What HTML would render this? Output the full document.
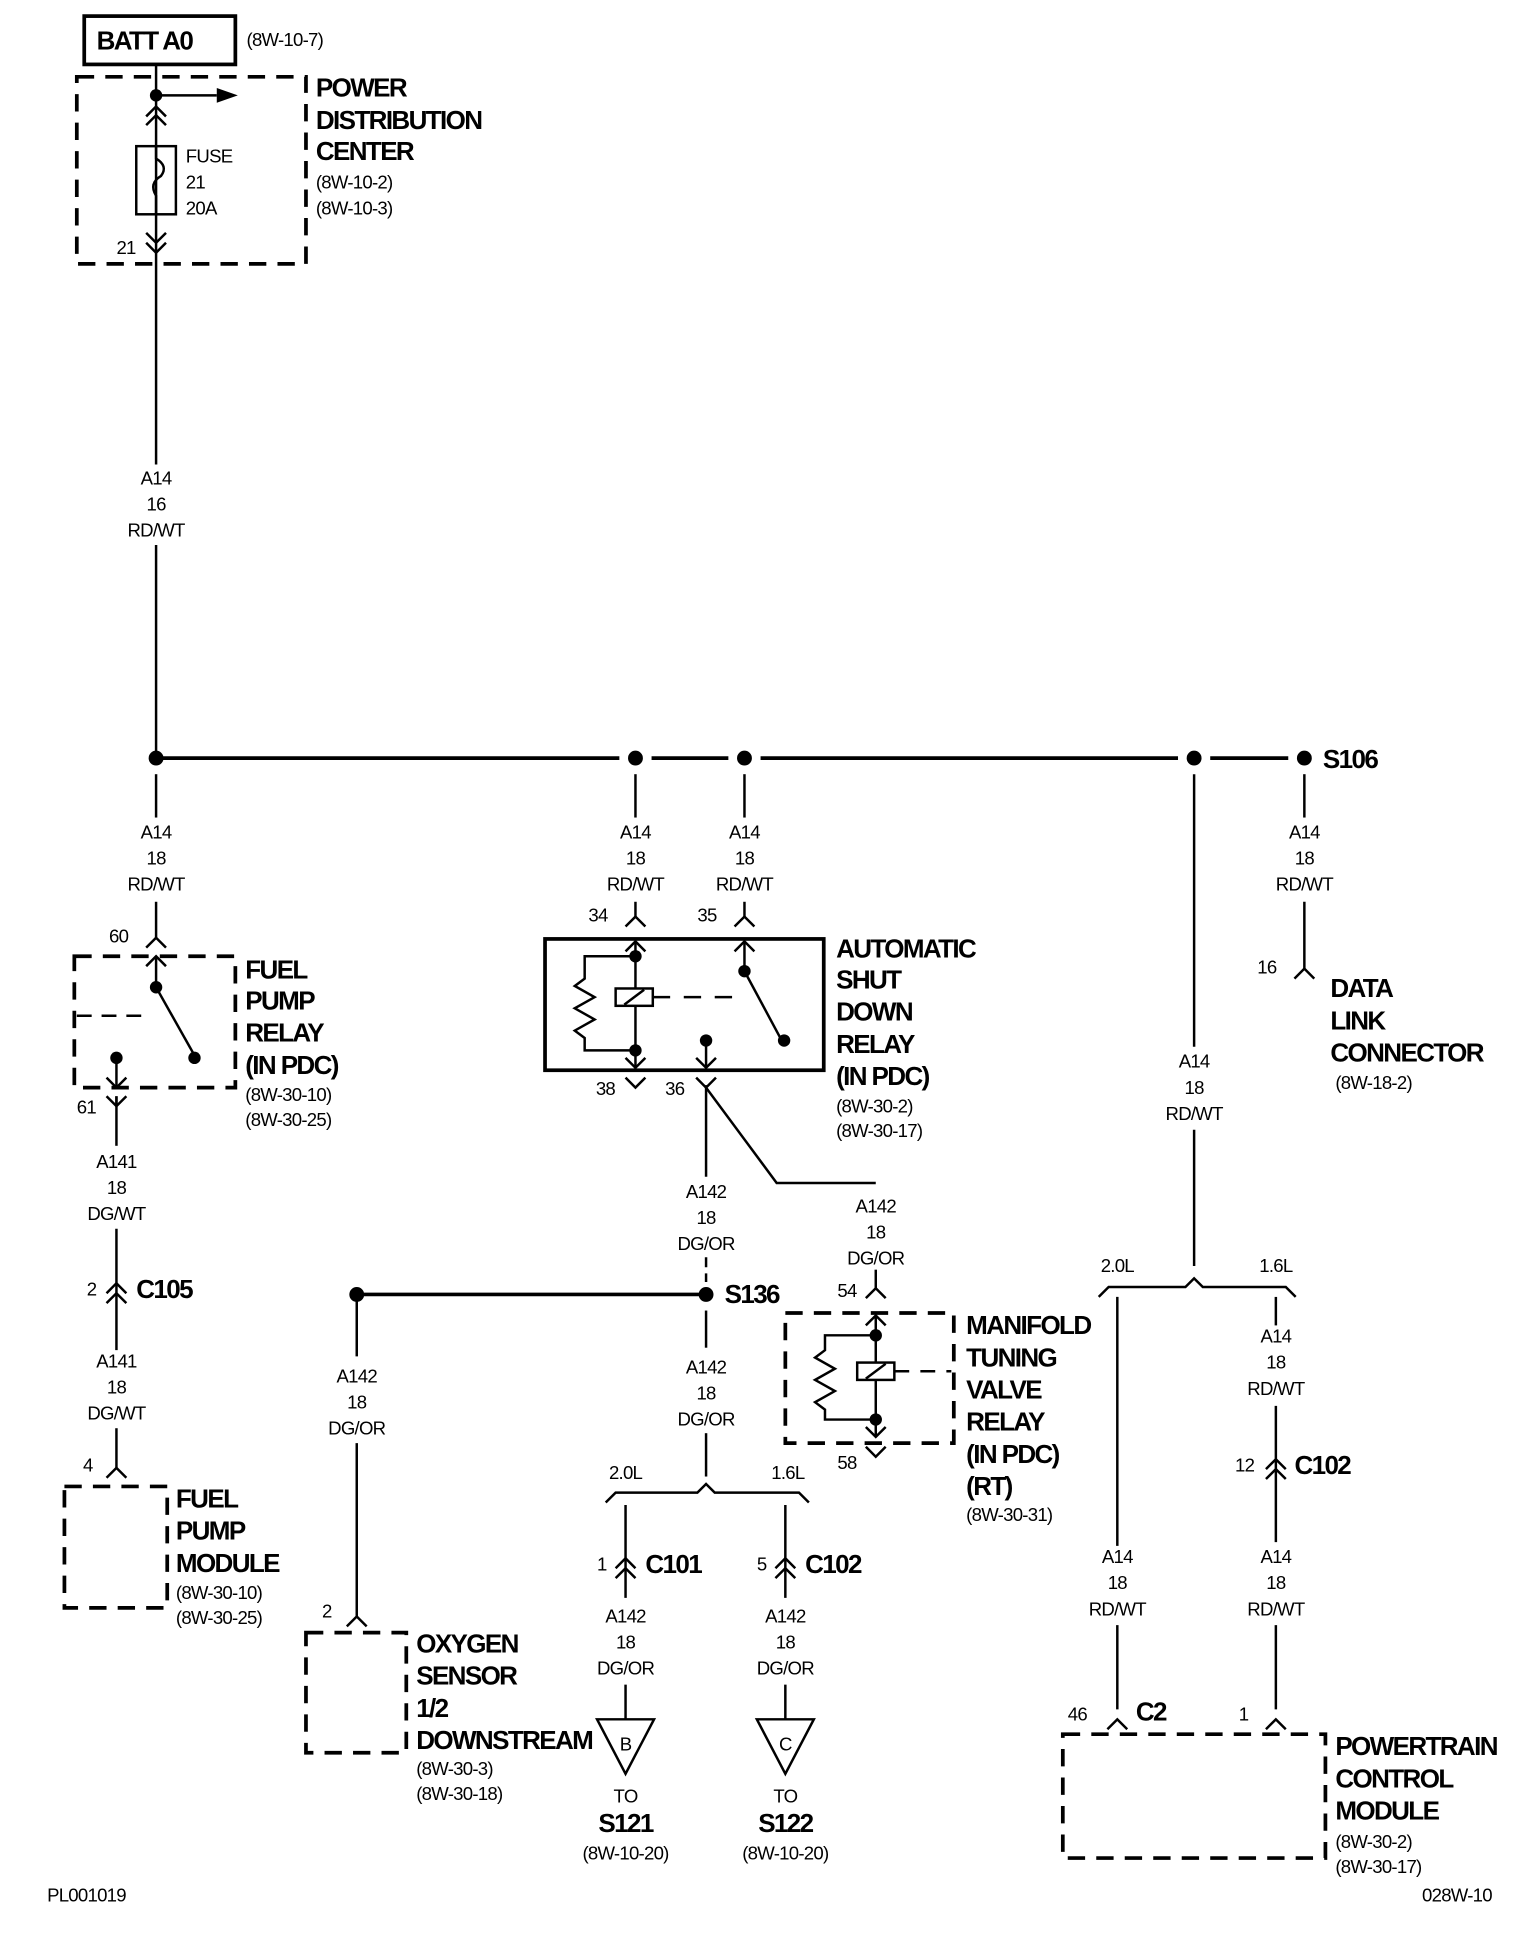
<!DOCTYPE html>
<html><head><style>
html,body{margin:0;padding:0;background:#fff}
svg{display:block}
text{font-family:"Liberation Sans Narrow","Liberation Sans",sans-serif;fill:#000}
.s{font-size:15px;letter-spacing:-0.6px}
.b{font-size:21px;font-weight:bold;letter-spacing:-1.3px}
.c{text-anchor:middle}
</style></head><body>
<svg width="1536" height="1946" viewBox="0 0 1240 1571" xmlns="http://www.w3.org/2000/svg">
<defs>
<path id="up" d="M-8,8 L0,0 L8,8" fill="none" stroke="#000" stroke-width="2"/>
<path id="dn" d="M-8,-8 L0,0 L8,-8" fill="none" stroke="#000" stroke-width="2"/>
</defs>
<rect width="1240" height="1571" fill="#fff"/>
<g stroke="#000" fill="none" stroke-width="2">
<rect x="68" y="13" width="122" height="39" stroke-width="3"/>
<rect x="62" y="62" width="185" height="151" stroke-width="3" stroke-dasharray="14,9"/>
<line x1="126" y1="52" x2="126" y2="375"/>
<line x1="126" y1="440" x2="126" y2="612"/>
<line x1="126" y1="77" x2="175" y2="77"/>
<rect x="110" y="118" width="32" height="55"/>
<path d="M126,118 v10 q10,6 4,14 q-10,6 -4,16 v15"/>
<line x1="126" y1="612" x2="500" y2="612" stroke-width="3"/>
<line x1="526" y1="612" x2="588" y2="612" stroke-width="3"/>
<line x1="614" y1="612" x2="951" y2="612" stroke-width="3"/>
<line x1="977" y1="612" x2="1040" y2="612" stroke-width="3"/>
<line x1="126" y1="625" x2="126" y2="660"/>
<line x1="126" y1="728" x2="126" y2="757"/>
<rect x="60" y="772" width="130" height="106" stroke-width="3" stroke-dasharray="14,9"/>
<line x1="126" y1="772" x2="126" y2="797"/>
<line x1="126" y1="797" x2="157" y2="852"/>
<line x1="62" y1="820" x2="122" y2="820" stroke-dasharray="12,8"/>
<line x1="94" y1="854" x2="94" y2="878"/>
<line x1="94" y1="885" x2="94" y2="925"/>
<line x1="94" y1="992" x2="94" y2="1090"/>
<line x1="94" y1="1153" x2="94" y2="1185"/>
<path d="M52,1200 H135 V1298 H52 Z" stroke-width="3" stroke-dasharray="14,9"/>
<line x1="513" y1="625" x2="513" y2="660"/>
<line x1="513" y1="728" x2="513" y2="740"/>
<line x1="601" y1="625" x2="601" y2="660"/>
<line x1="601" y1="728" x2="601" y2="740"/>
<rect x="440" y="758" width="225" height="106" stroke-width="3"/>
<line x1="513" y1="760" x2="513" y2="862"/>
<path d="M513,772 H472 V790 l-8,6 16,9 -16,9 16,9 -16,9 8,6 V848 H513"/>
<rect x="497" y="798" width="30" height="14" fill="#fff"/>
<line x1="504" y1="811" x2="520" y2="799"/>
<line x1="527" y1="805" x2="600" y2="805" stroke-dasharray="14,11"/>
<line x1="601" y1="760" x2="601" y2="784"/>
<line x1="601" y1="784" x2="630" y2="838"/>
<line x1="570" y1="840" x2="570" y2="862"/>
<line x1="570" y1="876" x2="570" y2="950"/>
<line x1="570" y1="1015" x2="570" y2="1035" stroke-dasharray="8,5"/>
<path d="M570,878 L627,955 H707"/>
<line x1="707" y1="1025" x2="707" y2="1040"/>
<line x1="288" y1="1045" x2="570" y2="1045" stroke-width="3"/>
<line x1="288" y1="1045" x2="288" y2="1095"/>
<line x1="288" y1="1165" x2="288" y2="1305"/>
<rect x="247" y="1318" width="81" height="97" stroke-width="3" stroke-dasharray="14,9"/>
<line x1="570" y1="1058" x2="570" y2="1088"/>
<line x1="570" y1="1157" x2="570" y2="1192"/>
<path d="M489,1213 l8,-8 H563 l7,-7 7,7 H645 l8,8"/>
<line x1="505" y1="1215" x2="505" y2="1290"/>
<line x1="634" y1="1215" x2="634" y2="1290"/>
<line x1="505" y1="1360" x2="505" y2="1388"/>
<line x1="634" y1="1360" x2="634" y2="1388"/>
<path d="M482,1388 H528 L505,1432 Z"/>
<path d="M611,1388 H657 L634,1432 Z"/>
<rect x="634" y="1060" width="136" height="105" stroke-width="3" stroke-dasharray="14,9"/>
<line x1="707" y1="1062" x2="707" y2="1160"/>
<path d="M707,1078 H666 V1090 l-8,6 16,9 -16,9 16,9 -16,9 8,6 V1146 H707"/>
<rect x="692" y="1100" width="30" height="14" fill="#fff"/>
<line x1="699" y1="1113" x2="715" y2="1101"/>
<line x1="722" y1="1107" x2="768" y2="1107" stroke-dasharray="12,9"/>
<line x1="964" y1="625" x2="964" y2="845"/>
<line x1="964" y1="912" x2="964" y2="1022"/>
<path d="M887,1047 l8,-8 H957 l7,-7 7,7 H1038 l8,8"/>
<line x1="902" y1="1047" x2="902" y2="1248"/>
<line x1="902" y1="1312" x2="902" y2="1380"/>
<line x1="1030" y1="1047" x2="1030" y2="1070"/>
<line x1="1030" y1="1135" x2="1030" y2="1245"/>
<line x1="1030" y1="1312" x2="1030" y2="1380"/>
<rect x="858" y="1400" width="212" height="100" stroke-width="3" stroke-dasharray="14,9"/>
<line x1="1053" y1="625" x2="1053" y2="660"/>
<line x1="1053" y1="728" x2="1053" y2="782"/>
</g>
<path d="M175,71 L192,77 L175,83 Z"/>
<g>
<circle cx="126" cy="77" r="5"/>
<circle cx="126" cy="612" r="6"/><circle cx="513" cy="612" r="6"/><circle cx="601" cy="612" r="6"/><circle cx="964" cy="612" r="6"/><circle cx="1053" cy="612" r="6"/>
<circle cx="126" cy="797" r="5"/><circle cx="157" cy="854" r="5"/><circle cx="94" cy="854" r="5"/>
<circle cx="513" cy="772" r="5"/><circle cx="513" cy="848" r="5"/><circle cx="601" cy="784" r="5"/><circle cx="633" cy="840" r="5"/><circle cx="570" cy="840" r="5"/>
<circle cx="288" cy="1045" r="6"/><circle cx="570" cy="1045" r="6"/>
<circle cx="707" cy="1078" r="5"/><circle cx="707" cy="1146" r="5"/>
</g>
<use href="#up" x="126" y="86"/><use href="#up" x="126" y="93"/>
<use href="#dn" x="126" y="196"/><use href="#dn" x="126" y="204"/>
<use href="#up" x="126" y="757"/><use href="#up" x="126" y="772"/>
<use href="#dn" x="94" y="878"/><use href="#dn" x="94" y="893"/><line x1="94" y1="885" x2="94" y2="893" stroke="#000" stroke-width="2"/>
<use href="#up" x="94" y="1036"/><use href="#up" x="94" y="1044"/>
<use href="#up" x="94" y="1185"/>
<use href="#up" x="513" y="740"/><use href="#up" x="601" y="740"/>
<use href="#up" x="513" y="760"/><use href="#up" x="601" y="760"/>
<use href="#dn" x="513" y="862"/><use href="#dn" x="570" y="862"/>
<use href="#dn" x="513" y="878"/><use href="#dn" x="570" y="878"/>
<use href="#up" x="707" y="1040"/><use href="#up" x="707" y="1062"/>
<use href="#dn" x="707" y="1160"/><use href="#dn" x="707" y="1176"/>
<use href="#up" x="288" y="1305"/>
<use href="#up" x="505" y="1258"/><use href="#up" x="505" y="1266"/>
<use href="#up" x="634" y="1258"/><use href="#up" x="634" y="1266"/>
<use href="#up" x="1030" y="1178"/><use href="#up" x="1030" y="1186"/>
<use href="#up" x="902" y="1388"/><use href="#up" x="1030" y="1388"/>
<use href="#up" x="1053" y="782"/>
<text class="b" x="78" y="40">BATT A0</text>
<text class="s" x="199" y="37">(8W-10-7)</text>
<text class="b" x="255" y="78">POWER</text>
<text class="b" x="255" y="104">DISTRIBUTION</text>
<text class="b" x="255" y="129">CENTER</text>
<text class="s" x="255" y="152">(8W-10-2)</text>
<text class="s" x="255" y="173">(8W-10-3)</text>
<text class="s" x="150" y="131">FUSE</text>
<text class="s" x="150" y="152">21</text>
<text class="s" x="150" y="173">20A</text>
<text class="s" x="94" y="205">21</text>
<g class="s c">
<text x="126" y="391">A14</text><text x="126" y="412">16</text><text x="126" y="433">RD/WT</text>
<text x="126" y="677">A14</text><text x="126" y="698">18</text><text x="126" y="719">RD/WT</text>
<text x="513" y="677">A14</text><text x="513" y="698">18</text><text x="513" y="719">RD/WT</text>
<text x="601" y="677">A14</text><text x="601" y="698">18</text><text x="601" y="719">RD/WT</text>
<text x="1053" y="677">A14</text><text x="1053" y="698">18</text><text x="1053" y="719">RD/WT</text>
<text x="964" y="862">A14</text><text x="964" y="883">18</text><text x="964" y="904">RD/WT</text>
<text x="94" y="943">A141</text><text x="94" y="964">18</text><text x="94" y="985">DG/WT</text>
<text x="94" y="1104">A141</text><text x="94" y="1125">18</text><text x="94" y="1146">DG/WT</text>
<text x="570" y="967">A142</text><text x="570" y="988">18</text><text x="570" y="1009">DG/OR</text>
<text x="707" y="979">A142</text><text x="707" y="1000">18</text><text x="707" y="1021">DG/OR</text>
<text x="288" y="1116">A142</text><text x="288" y="1137">18</text><text x="288" y="1158">DG/OR</text>
<text x="570" y="1109">A142</text><text x="570" y="1130">18</text><text x="570" y="1151">DG/OR</text>
<text x="505" y="1310">A142</text><text x="505" y="1331">18</text><text x="505" y="1352">DG/OR</text>
<text x="634" y="1310">A142</text><text x="634" y="1331">18</text><text x="634" y="1352">DG/OR</text>
<text x="1030" y="1084">A14</text><text x="1030" y="1105">18</text><text x="1030" y="1126">RD/WT</text>
<text x="902" y="1262">A14</text><text x="902" y="1283">18</text><text x="902" y="1304">RD/WT</text>
<text x="1030" y="1262">A14</text><text x="1030" y="1283">18</text><text x="1030" y="1304">RD/WT</text>
<text x="505" y="1413">B</text><text x="634" y="1413">C</text>
<text x="505" y="1455">TO</text><text x="634" y="1455">TO</text>
<text x="505" y="1501">(8W-10-20)</text><text x="634" y="1501">(8W-10-20)</text>
<text x="505" y="1194">2.0L</text><text x="636" y="1194">1.6L</text>
<text x="902" y="1027">2.0L</text><text x="1030" y="1027">1.6L</text>
</g>
<text class="b c" x="505" y="1479">S121</text>
<text class="b c" x="634" y="1479">S122</text>
<text class="b" x="1068" y="620">S106</text>
<text class="s" x="88" y="761">60</text>
<text class="s" x="62" y="899">61</text>
<text class="b" x="198" y="790">FUEL</text>
<text class="b" x="198" y="815">PUMP</text>
<text class="b" x="198" y="841">RELAY</text>
<text class="b" x="198" y="867">(IN PDC)</text>
<text class="s" x="198" y="889">(8W-30-10)</text>
<text class="s" x="198" y="909">(8W-30-25)</text>
<text class="s" x="70" y="1046">2</text>
<text class="b" x="110" y="1048">C105</text>
<text class="s" x="67" y="1188">4</text>
<text class="b" x="142" y="1217">FUEL</text>
<text class="b" x="142" y="1243">PUMP</text>
<text class="b" x="142" y="1269">MODULE</text>
<text class="s" x="142" y="1291">(8W-30-10)</text>
<text class="s" x="142" y="1311">(8W-30-25)</text>
<text class="s" x="475" y="744">34</text>
<text class="s" x="563" y="744">35</text>
<text class="s" x="481" y="884">38</text>
<text class="s" x="537" y="884">36</text>
<text class="b" x="675" y="773">AUTOMATIC</text>
<text class="b" x="675" y="798">SHUT</text>
<text class="b" x="675" y="824">DOWN</text>
<text class="b" x="675" y="850">RELAY</text>
<text class="b" x="675" y="876">(IN PDC)</text>
<text class="s" x="675" y="898">(8W-30-2)</text>
<text class="s" x="675" y="918">(8W-30-17)</text>
<text class="s" x="1015" y="786">16</text>
<text class="b" x="1074" y="805">DATA</text>
<text class="b" x="1074" y="831">LINK</text>
<text class="b" x="1074" y="857">CONNECTOR</text>
<text class="s" x="1078" y="879">(8W-18-2)</text>
<text class="b" x="585" y="1052">S136</text>
<text class="s" x="676" y="1047">54</text>
<text class="s" x="676" y="1186">58</text>
<text class="b" x="780" y="1077">MANIFOLD</text>
<text class="b" x="780" y="1103">TUNING</text>
<text class="b" x="780" y="1129">VALVE</text>
<text class="b" x="780" y="1155">RELAY</text>
<text class="b" x="780" y="1181">(IN PDC)</text>
<text class="b" x="780" y="1207">(RT)</text>
<text class="s" x="780" y="1228">(8W-30-31)</text>
<text class="s" x="260" y="1306">2</text>
<text class="b" x="336" y="1334">OXYGEN</text>
<text class="b" x="336" y="1360">SENSOR</text>
<text class="b" x="336" y="1386">1/2</text>
<text class="b" x="336" y="1412">DOWNSTREAM</text>
<text class="s" x="336" y="1433">(8W-30-3)</text>
<text class="s" x="336" y="1453">(8W-30-18)</text>
<text class="s" x="482" y="1268">1</text>
<text class="b" x="521" y="1270">C101</text>
<text class="s" x="611" y="1268">5</text>
<text class="b" x="650" y="1270">C102</text>
<text class="s" x="997" y="1188">12</text>
<text class="b" x="1045" y="1190">C102</text>
<text class="s" x="862" y="1389">46</text>
<text class="b" x="917" y="1389">C2</text>
<text class="s" x="1000" y="1389">1</text>
<text class="b" x="1078" y="1417">POWERTRAIN</text>
<text class="b" x="1078" y="1443">CONTROL</text>
<text class="b" x="1078" y="1469">MODULE</text>
<text class="s" x="1078" y="1492">(8W-30-2)</text>
<text class="s" x="1078" y="1512">(8W-30-17)</text>
<text class="s" x="38" y="1535">PL001019</text>
<text class="s" x="1148" y="1535">028W-10</text>
</svg>
</body></html>
